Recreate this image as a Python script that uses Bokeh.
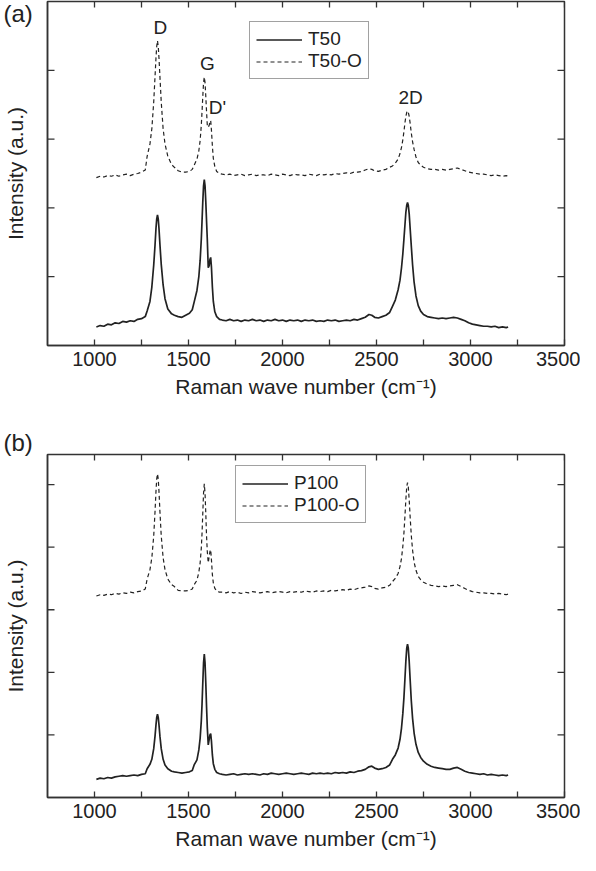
from bokeh.plotting import figure
from bokeh.models import Range1d, FixedTicker, Label, Title
from bokeh.layouts import column
from bokeh.embed import file_html
from bokeh.resources import INLINE
import math

FONT = "Liberation Sans"
INK = "#222222"
AXIS = "#333333"

# Raman shift (cm^-1) sampling used for all four spectra
wavenumber = [
    1010, 1030, 1050, 1070, 1090, 1110, 1130, 1150, 1170, 1190, 1210, 1230, 1250, 1270,
    1280, 1295, 1305, 1315, 1322, 1327, 1331, 1335, 1339, 1343, 1348, 1355, 1365, 1375, 1390, 1410, 1425,
    1445, 1465, 1485, 1505, 1520,
    1530, 1545, 1555, 1562, 1568, 1572, 1576, 1580, 1584, 1588, 1592, 1596, 1600, 1605, 1610, 1614, 1618, 1622, 1627, 1632, 1640, 1650, 1665,
    1680, 1700, 1720, 1740, 1760, 1780, 1800, 1820, 1840, 1860, 1880, 1900, 1920, 1940, 1960, 1980, 2000, 2020, 2040,
    2060, 2080, 2100, 2120, 2140, 2160, 2180, 2200, 2220, 2240, 2260, 2280, 2300, 2320, 2340, 2360, 2380, 2400,
    2420, 2440, 2460, 2475, 2490, 2510, 2530, 2550, 2570,
    2585, 2600, 2615, 2625, 2633, 2640, 2646, 2651, 2656, 2661, 2665, 2669, 2674, 2679, 2685, 2692, 2700, 2710, 2722, 2735, 2750, 2770,
    2790, 2810, 2830, 2850, 2870, 2890, 2910, 2930, 2950, 2970, 2990, 3010, 3030, 3050, 3070, 3090, 3110, 3130, 3150, 3170, 3190, 3200,
]

# Panel (a)
t50 = [
    0.27, 0.29, 0.28, 0.31, 0.30, 0.33, 0.32, 0.35, 0.34, 0.36, 0.35, 0.38, 0.39, 0.42,
    0.50, 0.64, 0.85, 1.17, 1.46, 1.70, 1.84, 1.90, 1.84, 1.70, 1.47, 1.18, 0.88, 0.68, 0.53, 0.46, 0.44,
    0.42, 0.41, 0.44, 0.47, 0.52,
    0.63, 0.80, 1.00, 1.24, 1.54, 1.81, 2.09, 2.32, 2.41, 2.32, 2.09, 1.81, 1.54, 1.13, 1.16, 1.25, 1.28, 1.14, 0.85, 0.64, 0.49, 0.42, 0.38,
    0.37, 0.36, 0.38, 0.36, 0.37, 0.35, 0.37, 0.36, 0.38, 0.36, 0.37, 0.35, 0.37, 0.36, 0.38, 0.36, 0.37, 0.35, 0.37,
    0.36, 0.37, 0.35, 0.37, 0.36, 0.37, 0.35, 0.36, 0.35, 0.37, 0.36, 0.37, 0.35, 0.36, 0.37, 0.36, 0.38, 0.37,
    0.39, 0.41, 0.45, 0.44, 0.41, 0.40, 0.42, 0.44, 0.48,
    0.57, 0.66, 0.81, 0.95, 1.13, 1.33, 1.55, 1.74, 1.93, 2.04, 2.08, 2.04, 1.91, 1.70, 1.45, 1.17, 0.92, 0.72, 0.58, 0.50, 0.45, 0.42,
    0.41, 0.40, 0.39, 0.40, 0.39, 0.40, 0.41, 0.40, 0.38, 0.36, 0.33, 0.31, 0.30, 0.29, 0.28, 0.28, 0.27, 0.28, 0.26, 0.27, 0.26, 0.27,
]
t50_o = [
    2.44, 2.46, 2.45, 2.47, 2.46, 2.48, 2.46, 2.48, 2.49, 2.47, 2.49, 2.50, 2.52, 2.55,
    2.75, 2.93, 3.15, 3.54, 3.91, 4.18, 4.35, 4.43, 4.35, 4.18, 3.91, 3.54, 3.15, 2.93, 2.75, 2.63, 2.59,
    2.54, 2.52, 2.52, 2.53, 2.56,
    2.62, 2.71, 2.83, 2.98, 3.20, 3.40, 3.62, 3.82, 3.90, 3.82, 3.62, 3.40, 3.20, 3.17, 3.20, 3.25, 3.27, 3.13, 2.90, 2.72, 2.60, 2.53, 2.50,
    2.49, 2.48, 2.49, 2.47, 2.48, 2.49, 2.47, 2.48, 2.49, 2.47, 2.48, 2.48, 2.47, 2.49, 2.48, 2.47, 2.49, 2.48, 2.47,
    2.49, 2.48, 2.48, 2.47, 2.49, 2.48, 2.47, 2.49, 2.48, 2.49, 2.48, 2.50, 2.49, 2.50, 2.51, 2.50, 2.52, 2.52,
    2.53, 2.55, 2.57, 2.56, 2.54, 2.53, 2.55, 2.56, 2.59,
    2.61, 2.65, 2.71, 2.79, 2.88, 2.99, 3.11, 3.23, 3.33, 3.39, 3.41, 3.39, 3.33, 3.23, 3.09, 2.96, 2.85, 2.74, 2.66, 2.62, 2.59, 2.57,
    2.56, 2.56, 2.55, 2.56, 2.55, 2.56, 2.57, 2.58, 2.56, 2.54, 2.52, 2.51, 2.50, 2.49, 2.49, 2.48, 2.47, 2.48, 2.47, 2.46, 2.47, 2.46,
]

# Panel (b)
p100 = [
    0.29, 0.31, 0.30, 0.32, 0.31, 0.33, 0.34, 0.35, 0.34, 0.35, 0.36, 0.35, 0.37, 0.38,
    0.46, 0.53, 0.61, 0.78, 0.98, 1.16, 1.28, 1.33, 1.28, 1.16, 0.98, 0.78, 0.61, 0.52, 0.46, 0.42, 0.41,
    0.40, 0.39, 0.40, 0.41, 0.43,
    0.52, 0.60, 0.76, 0.95, 1.22, 1.49, 1.83, 2.15, 2.29, 2.15, 1.83, 1.45, 1.12, 0.84, 0.93, 1.00, 1.02, 0.90, 0.68, 0.54, 0.45, 0.40, 0.38,
    0.37, 0.36, 0.37, 0.38, 0.36, 0.37, 0.38, 0.37, 0.38, 0.37, 0.36, 0.38, 0.37, 0.39, 0.38, 0.37, 0.38, 0.39, 0.38,
    0.37, 0.38, 0.39, 0.38, 0.37, 0.39, 0.38, 0.39, 0.38, 0.39, 0.38, 0.40, 0.39, 0.40, 0.39, 0.41, 0.40, 0.42,
    0.43, 0.45, 0.49, 0.50, 0.47, 0.45, 0.46, 0.48, 0.52,
    0.61, 0.68, 0.79, 0.93, 1.11, 1.34, 1.60, 1.88, 2.17, 2.39, 2.45, 2.39, 2.17, 1.88, 1.55, 1.26, 1.03, 0.85, 0.72, 0.64, 0.58, 0.53,
    0.50, 0.48, 0.47, 0.46, 0.45, 0.45, 0.47, 0.48, 0.45, 0.42, 0.40, 0.39, 0.38, 0.37, 0.38, 0.36, 0.37, 0.36, 0.35, 0.36, 0.35, 0.36,
]
p100_o = [
    3.22, 3.24, 3.23, 3.25, 3.24, 3.26, 3.25, 3.27, 3.26, 3.28, 3.27, 3.29, 3.30, 3.33,
    3.49, 3.64, 3.83, 4.18, 4.57, 4.89, 5.09, 5.17, 5.09, 4.89, 4.57, 4.18, 3.83, 3.64, 3.49, 3.40, 3.37,
    3.31, 3.30, 3.30, 3.31, 3.33,
    3.40, 3.47, 3.60, 3.75, 3.98, 4.22, 4.54, 4.86, 5.01, 4.86, 4.54, 4.18, 3.93, 3.75, 3.85, 3.93, 3.96, 3.80, 3.56, 3.43, 3.34, 3.30, 3.28,
    3.28, 3.27, 3.29, 3.27, 3.28, 3.26, 3.28, 3.27, 3.29, 3.28, 3.27, 3.28, 3.29, 3.27, 3.28, 3.29, 3.28, 3.27, 3.29,
    3.28, 3.29, 3.28, 3.30, 3.29, 3.28, 3.30, 3.29, 3.30, 3.29, 3.31, 3.30, 3.31, 3.32, 3.31, 3.33, 3.32, 3.34,
    3.35, 3.36, 3.38, 3.37, 3.34, 3.33, 3.35, 3.36, 3.39,
    3.45, 3.50, 3.58, 3.69, 3.82, 4.01, 4.23, 4.48, 4.75, 4.97, 5.03, 4.97, 4.75, 4.48, 4.19, 3.95, 3.76, 3.63, 3.53, 3.48, 3.44, 3.41,
    3.39, 3.38, 3.37, 3.38, 3.37, 3.38, 3.39, 3.40, 3.37, 3.34, 3.31, 3.29, 3.28, 3.27, 3.27, 3.26, 3.26, 3.25, 3.26, 3.25, 3.24, 3.25,
]

x_label_ticks = [1000, 1500, 2000, 2500, 3000, 3500]
x_minor_ticks = [1250, 1750, 2250, 2750, 3250]
x_all_ticks = [1000, 1250, 1500, 1750, 2000, 2250, 2500, 2750, 3000, 3250, 3500]
ya_ticks = [1, 2, 3, 4]
yb_ticks = [1, 2, 3, 4, 5]

# peak annotations for panel (a)
peak_names = ["D", "G", "D'", "2D"]
peak_pos = [1335, 1584, 1618, 2665]
peak_val = [4.43, 3.90, 3.27, 3.41]

XMIN, XMAX = 750, 3500


def make_panel(height, ymax, yticks, top, bottom, series, names, legend_xy, tag, tag_standoff):
    p = figure(width=580, height=height, x_range=Range1d(XMIN, XMAX), y_range=Range1d(0, ymax),
               output_backend="svg", toolbar_location=None,
               min_border_left=44, min_border_right=16, min_border_top=top, min_border_bottom=bottom)
    p.background_fill_color = "white"
    p.border_fill_color = "white"
    p.outline_line_color = AXIS
    p.outline_line_width = 1.5
    p.xgrid.grid_line_color = None
    p.ygrid.grid_line_color = None

    bx = p.xaxis[0]
    bx.ticker = FixedTicker(ticks=x_label_ticks, minor_ticks=x_minor_ticks)
    bx.major_tick_in = 6
    bx.major_tick_out = 0
    bx.minor_tick_in = 6
    bx.minor_tick_out = 0
    bx.axis_line_color = AXIS
    bx.axis_line_width = 1.5
    bx.major_tick_line_color = AXIS
    bx.major_tick_line_width = 1.3
    bx.minor_tick_line_color = AXIS
    bx.minor_tick_line_width = 1.3
    bx.major_label_text_font = FONT
    bx.major_label_text_font_size = "20px"
    bx.major_label_text_color = INK
    bx.major_label_standoff = 6
    bx.axis_label = "Raman wave number (cm\u207b\u00b9)"
    bx.axis_label_text_font = FONT
    bx.axis_label_text_font_size = "21px"
    bx.axis_label_text_font_style = "normal"
    bx.axis_label_text_color = INK
    bx.axis_label_standoff = 6

    ly = p.yaxis[0]
    ly.ticker = FixedTicker(ticks=[], minor_ticks=[])
    ly.axis_line_color = AXIS
    ly.axis_line_width = 1.5
    ly.axis_label = "Intensity (a.u.)"
    ly.axis_label_text_font = FONT
    ly.axis_label_text_font_size = "21px"
    ly.axis_label_text_font_style = "normal"
    ly.axis_label_text_color = INK
    ly.axis_label_standoff = 21

    # inward ticks on the left, right and top edges of the frame
    p.scatter([XMIN] * len(yticks), yticks, marker="dash", size=14, line_color=AXIS, line_width=1.3)
    p.scatter([XMAX] * len(yticks), yticks, marker="dash", size=14, line_color=AXIS, line_width=1.3)
    p.scatter(x_all_ticks, [ymax] * len(x_all_ticks), marker="dash", size=12, angle=math.pi / 2,
              line_color=AXIS, line_width=1.3)

    solid, dashed = series
    p.line(wavenumber, solid, color=INK, line_width=1.7, legend_label=names[0])
    p.line(wavenumber, dashed, color=INK, line_width=1.2, line_dash="4 3", legend_label=names[1])

    lg = p.legend[0]
    lg.location = legend_xy
    lg.border_line_color = "#444444"
    lg.border_line_width = 1
    lg.background_fill_alpha = 1
    lg.label_text_font = FONT
    lg.label_text_font_size = "19px"
    lg.label_text_color = INK
    lg.glyph_width = 46
    lg.glyph_height = 21
    lg.label_height = 21
    lg.label_standoff = 6
    lg.spacing = 0
    lg.padding = 6
    lg.margin = 0

    p.add_layout(Title(text=tag, align="left", offset=-44, standoff=tag_standoff, text_font=FONT,
                       text_font_size="24px", text_font_style="normal", text_color=INK), "above")
    return p


pa = make_panel(428, 5, ya_ticks, 1, 83, (t50, t50_o), ("T50", "T50-O"), (202, 266), "(a)", -50)
for name, xp, yp in zip(peak_names, peak_pos, peak_val):
    align = "left" if name == "D'" else "center"
    xo = -2 if name == "D'" else 3
    pa.add_layout(Label(x=xp, y=yp, text=name, text_font=FONT, text_font_size="19px",
                        text_color=INK, text_align=align, text_baseline="bottom",
                        x_offset=xo, y_offset=3))

pb = make_panel(427, 5.48, yb_ticks, 25, 58, (p100, p100_o), ("P100", "P100-O"), (188, 274), "(b)", -3)

layout = column(pa, pb)
open("out.html", "w").write(file_html(layout, INLINE))
